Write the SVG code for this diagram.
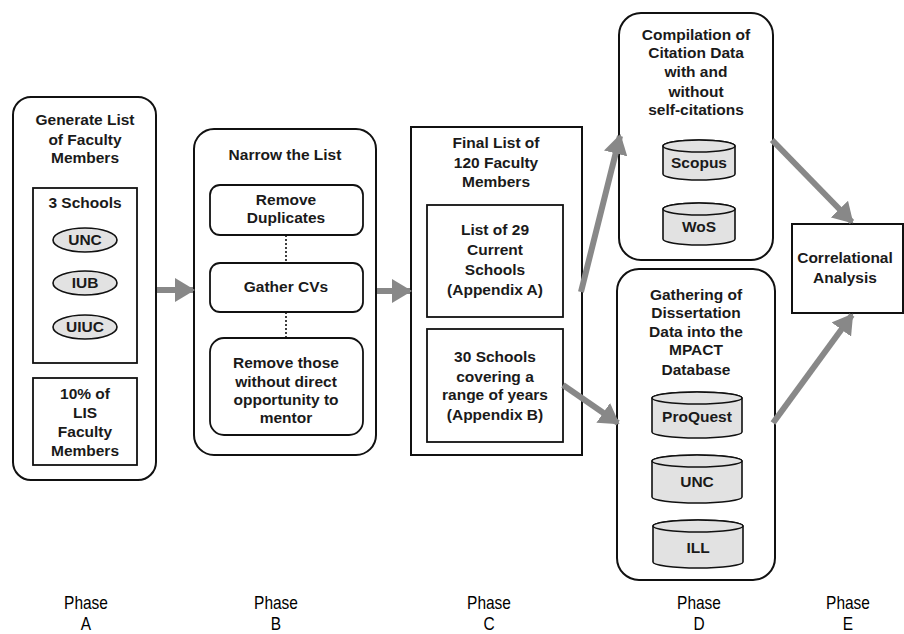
<svg xmlns="http://www.w3.org/2000/svg" width="904" height="634" viewBox="0 0 904 634">
<style>
text{font-family:"Liberation Sans",Arial,sans-serif;font-size:15.5px;font-weight:bold;fill:#1a1a1a;text-anchor:middle}
.ph{font-size:18px;font-weight:normal;fill:#000}
.box{fill:#fff;stroke:#111;stroke-width:2}
.in{fill:#fff;stroke:#111;stroke-width:1.8}
.db{fill:#e2e2e2;stroke:#111;stroke-width:1.6}
.dot{stroke:#111;stroke-width:1.6;stroke-dasharray:2 2}
.arr{stroke:#888;stroke-width:6;fill:none}
</style>
<defs>
<marker id="ah" markerUnits="userSpaceOnUse" markerWidth="20" markerHeight="24" refX="18" refY="12" orient="auto">
<path d="M0,0 L20,12 L0,24 Z" fill="#888"/>
</marker>
</defs>
<rect width="904" height="634" fill="#fff"/>

<g id="phaseA">
<rect class="box" x="13" y="97" width="143" height="383" rx="18"/>
<text x="85" y="125">Generate List</text>
<text x="85" y="145">of Faculty</text>
<text x="85" y="163">Members</text>
<rect class="in" x="33" y="188" width="104" height="175"/>
<text x="85" y="208">3 Schools</text>
<ellipse class="db" cx="85" cy="240" rx="32" ry="12"/>
<text x="85" y="245">UNC</text>
<ellipse class="db" cx="85" cy="283" rx="32" ry="12"/>
<text x="85" y="288">IUB</text>
<ellipse class="db" cx="85" cy="327" rx="32" ry="12"/>
<text x="85" y="332">UIUC</text>
<rect class="in" x="33" y="378" width="104" height="87"/>
<text x="85" y="399">10% of</text>
<text x="85" y="418">LIS</text>
<text x="85" y="437">Faculty</text>
<text x="85" y="456">Members</text>
</g>

<g id="phaseB">
<rect class="box" x="194" y="129" width="182" height="326" rx="20"/>
<text x="285" y="160">Narrow the List</text>
<rect class="in" x="210" y="185" width="153" height="50" rx="10"/>
<text x="286" y="205">Remove</text>
<text x="286" y="223">Duplicates</text>
<rect class="in" x="210" y="263" width="153" height="49" rx="10"/>
<text x="286" y="292">Gather CVs</text>
<rect class="in" x="210" y="338" width="153" height="97" rx="14"/>
<text x="286" y="368">Remove those</text>
<text x="286" y="387">without direct</text>
<text x="286" y="405">opportunity to</text>
<text x="286" y="423">mentor</text>
</g>

<g id="phaseC">
<rect class="box" x="411" y="127" width="171" height="328"/>
<text x="496" y="148">Final List of</text>
<text x="496" y="168">120 Faculty</text>
<text x="496" y="187">Members</text>
<rect class="in" x="427" y="205" width="136" height="112"/>
<text x="495" y="235">List of 29</text>
<text x="495" y="255">Current</text>
<text x="495" y="275">Schools</text>
<text x="495" y="295">(Appendix A)</text>
<rect class="in" x="427" y="329" width="136" height="113"/>
<text x="495" y="362">30 Schools</text>
<text x="495" y="382">covering a</text>
<text x="495" y="400">range of years</text>
<text x="495" y="420">(Appendix B)</text>
</g>

<g id="phaseD1">
<rect class="box" x="619" y="13" width="154" height="247" rx="22"/>
<text x="696" y="40">Compilation of</text>
<text x="696" y="58">Citation Data</text>
<text x="696" y="77">with and</text>
<text x="696" y="97">without</text>
<text x="696" y="115">self-citations</text>
<path class="db" d="M663,146 A36,6 0 0 1 735,146 L735,174 A36,6 0 0 1 663,174 Z"/>
<ellipse class="db" cx="699" cy="146" rx="36" ry="6"/>
<text x="699" y="168">Scopus</text>
<path class="db" d="M663,209 A36,6 0 0 1 735,209 L735,239 A36,6 0 0 1 663,239 Z"/>
<ellipse class="db" cx="699" cy="209" rx="36" ry="6"/>
<text x="699" y="232">WoS</text>
</g>

<g id="phaseD2">
<rect class="box" x="617" y="269" width="158" height="311" rx="22"/>
<text x="696" y="300">Gathering of</text>
<text x="696" y="318">Dissertation</text>
<text x="696" y="337">Data into the</text>
<text x="696" y="355">MPACT</text>
<text x="696" y="375">Database</text>
<path class="db" d="M652,398 A45,6 0 0 1 742,398 L742,432 A45,6 0 0 1 652,432 Z"/>
<ellipse class="db" cx="697" cy="398" rx="45" ry="6"/>
<text x="697" y="422">ProQuest</text>
<path class="db" d="M652,461 A45,6 0 0 1 742,461 L742,497 A45,6 0 0 1 652,497 Z"/>
<ellipse class="db" cx="697" cy="461" rx="45" ry="6"/>
<text x="697" y="487">UNC</text>
<path class="db" d="M653,526 A45,6 0 0 1 743,526 L743,562 A45,6 0 0 1 653,562 Z"/>
<ellipse class="db" cx="698" cy="526" rx="45" ry="6"/>
<text x="698" y="553">ILL</text>
</g>

<g id="phaseE">
<rect class="box" x="792" y="224" width="111" height="89"/>
<text x="845" y="263">Correlational</text>
<text x="845" y="283">Analysis</text>
</g>

<g id="connectors">
<line class="arr" x1="157" y1="290" x2="193" y2="290" marker-end="url(#ah)"/>
<line class="arr" x1="377" y1="291" x2="410" y2="291" marker-end="url(#ah)"/>
<line class="arr" x1="581" y1="292" x2="620" y2="136" marker-end="url(#ah)"/>
<line class="arr" x1="563" y1="385" x2="618" y2="423" marker-end="url(#ah)"/>
<line class="arr" x1="772" y1="140" x2="852" y2="222" marker-end="url(#ah)"/>
<line class="arr" x1="773" y1="423" x2="852" y2="315" marker-end="url(#ah)"/>
<line class="dot" x1="286" y1="235" x2="286" y2="263"/>
<line class="dot" x1="286" y1="312" x2="286" y2="338"/>
</g>

<g id="labels">
<text class="ph" transform="translate(86,609) scale(0.86,1)">Phase</text>
<text class="ph" transform="translate(86,630) scale(0.86,1)">A</text>
<text class="ph" transform="translate(276,609) scale(0.86,1)">Phase</text>
<text class="ph" transform="translate(276,630) scale(0.86,1)">B</text>
<text class="ph" transform="translate(489,609) scale(0.86,1)">Phase</text>
<text class="ph" transform="translate(489,630) scale(0.86,1)">C</text>
<text class="ph" transform="translate(699,609) scale(0.86,1)">Phase</text>
<text class="ph" transform="translate(699,630) scale(0.86,1)">D</text>
<text class="ph" transform="translate(848,609) scale(0.86,1)">Phase</text>
<text class="ph" transform="translate(848,630) scale(0.86,1)">E</text>
</g>
</svg>
